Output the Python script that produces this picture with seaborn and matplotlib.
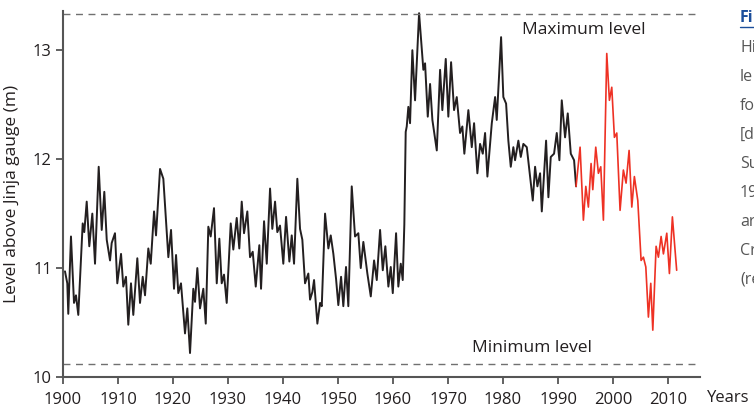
import matplotlib
matplotlib.use("Agg")
import matplotlib.pyplot as plt
import seaborn as sns
import pandas as pd
from matplotlib.lines import Line2D

# lake level, black = historic record, red = recent record
hist_years = [1900.36, 1900.78, 1900.96, 1901.45, 1902.0, 1902.36, 1902.78, 1903.58, 1903.87, 1904.31,
              1904.78, 1905.33, 1905.82, 1906.49, 1907.04, 1907.51, 1907.95, 1908.55, 1908.85, 1909.45,
              1909.87, 1910.55, 1910.96, 1911.45, 1911.87, 1912.36, 1912.78, 1913.51, 1914.0, 1914.49,
              1914.91, 1915.51, 1915.95, 1916.55, 1916.91, 1917.64, 1918.24, 1919.15, 1919.64, 1920.18,
              1920.55, 1920.96, 1921.45, 1922.18, 1922.6, 1923.09, 1923.69, 1924.0, 1924.42, 1924.91,
              1925.51, 1925.95, 1926.42, 1926.85, 1927.45, 1927.95, 1928.42, 1928.85, 1929.27, 1929.76,
              1930.49, 1930.96, 1931.58, 1932.05, 1932.49, 1932.91, 1933.51, 1934.0, 1934.49, 1935.04,
              1935.69, 1936.0, 1936.55, 1937.04, 1937.64, 1938.05, 1938.55, 1938.96, 1939.45, 1940.05,
              1940.55, 1941.15, 1941.58, 1942.0, 1942.6, 1943.09, 1943.51, 1944.0, 1944.6, 1944.91,
              1945.33, 1945.64, 1946.24, 1946.73, 1947.04, 1947.64, 1948.24, 1948.67, 1949.15, 1949.64,
              1950.05, 1950.55, 1950.96, 1951.45, 1951.87, 1952.49, 1953.09, 1953.69, 1954.13, 1954.6,
              1955.33, 1955.95, 1956.55, 1957.04, 1957.64, 1958.13, 1958.6, 1959.15, 1959.58, 1959.95,
              1960.55, 1960.96, 1961.4, 1961.76, 1962.05, 1962.3, 1962.49, 1962.78, 1963.09, 1963.51,
              1964.0, 1964.73, 1965.51, 1965.82, 1966.31, 1966.73, 1967.15, 1967.95, 1968.55, 1968.96,
              1969.58, 1970.05, 1970.55, 1971.09, 1971.58, 1972.18, 1972.6, 1972.96, 1973.69, 1974.31,
              1974.73, 1975.33, 1975.82, 1976.31, 1976.73, 1977.15, 1977.95, 1978.55, 1978.85, 1979.64,
              1980.05, 1980.55, 1980.96, 1981.4, 1981.87, 1982.18, 1982.78, 1983.22, 1983.69, 1984.31,
              1984.91, 1985.4, 1985.82, 1986.24, 1986.73, 1987.04, 1987.82, 1988.24, 1988.67, 1989.27,
              1989.76, 1990.24, 1990.67, 1991.27, 1991.76, 1992.31, 1992.91, 1993.27]
hist_level = [10.97, 10.86, 10.58, 11.29, 10.68, 10.75, 10.57, 11.41, 11.33, 11.61,
              11.20, 11.50, 11.04, 11.93, 11.35, 11.70, 11.26, 11.07, 11.23, 11.32,
              10.86, 11.13, 10.83, 10.92, 10.48, 10.86, 10.57, 11.09, 10.68, 10.92,
              10.75, 11.18, 11.04, 11.52, 11.30, 11.91, 11.82, 11.10, 11.35, 10.81,
              11.12, 10.77, 10.86, 10.40, 10.63, 10.22, 10.81, 10.69, 11.00, 10.63,
              10.81, 10.49, 11.38, 11.29, 11.55, 10.86, 11.27, 10.86, 10.94, 10.68,
              11.41, 11.17, 11.46, 11.18, 11.61, 11.32, 11.52, 11.10, 11.15, 10.83,
              11.21, 10.81, 11.43, 11.04, 11.73, 11.36, 11.61, 11.33, 11.39, 11.04,
              11.47, 11.06, 11.30, 11.04, 11.82, 11.36, 11.26, 10.86, 10.95, 10.71,
              10.78, 10.89, 10.49, 10.68, 10.65, 11.50, 11.18, 11.30, 11.13, 10.90,
              10.66, 10.92, 10.65, 11.01, 10.65, 11.75, 11.29, 11.32, 11.00, 11.24,
              10.95, 10.74, 11.07, 10.89, 11.35, 10.98, 11.20, 10.83, 11.01, 10.77,
              11.32, 10.83, 11.04, 10.89, 11.40, 12.25, 12.30, 12.48, 12.33, 13.00,
              12.54, 13.34, 12.82, 12.88, 12.39, 12.69, 12.36, 12.08, 12.82, 12.45,
              12.92, 12.39, 12.89, 12.45, 12.57, 12.24, 12.30, 12.05, 12.45, 12.11,
              12.33, 11.87, 12.14, 12.05, 12.24, 11.84, 12.33, 12.57, 12.36, 13.12,
              12.57, 12.51, 12.17, 11.93, 12.11, 11.99, 12.17, 12.02, 12.14, 12.11,
              11.84, 11.62, 11.93, 11.75, 11.87, 11.52, 12.17, 11.65, 12.02, 12.05,
              12.24, 11.99, 12.54, 12.20, 12.42, 12.05, 11.99, 11.75]

recent_years = [1993.27, 1994.0, 1994.6, 1995.04, 1995.51, 1996.0, 1996.31, 1996.85, 1997.33, 1997.76,
                1998.24, 1998.85, 1999.33, 1999.76, 2000.24, 2000.67, 2001.27, 2001.87, 2002.36, 2002.91,
                2003.4, 2003.87, 2004.49, 2005.09, 2005.51, 2005.95, 2006.42, 2006.85, 2007.22, 2007.82,
                2008.24, 2008.73, 2009.15, 2009.76, 2010.24, 2010.78, 2011.56]
recent_level = [11.75, 12.11, 11.44, 11.75, 11.56, 11.96, 11.72, 12.11, 11.87, 11.93,
                11.44, 12.97, 12.54, 12.66, 12.20, 12.24, 11.53, 11.90, 11.78, 12.08,
                11.56, 11.84, 11.62, 11.07, 11.10, 11.01, 10.55, 10.86, 10.43, 11.20,
                11.10, 11.29, 11.13, 11.32, 10.95, 11.47, 10.98]

max_level = 13.33
min_level = 10.12
x_ticks = list(range(1900, 2011, 10))
y_ticks = [10, 11, 12, 13]
caption = ["Hi", "le", "fo", "[d", "Su", "19", "ar", "Cr", "(re"]

sns.set_theme(style="ticks")
plt.rcParams["font.family"] = ["Open Sans", "DejaVu Sans"]

fig = plt.figure(figsize=(7.54, 4.08), dpi=100)
ax = fig.add_axes([63 / 754, 1 - 377 / 408, (700 - 63) / 754, (377 - 11) / 408])

hist = pd.DataFrame({"year": hist_years, "level": hist_level})
recent = pd.DataFrame({"year": recent_years, "level": recent_level})
sns.lineplot(data=hist, x="year", y="level", ax=ax, color="#231f20", lw=1.4, sort=False)
sns.lineplot(data=recent, x="year", y="level", ax=ax, color="#ee3124", lw=1.2, sort=False)

ax.axhline(max_level, color="#707070", lw=1, dashes=(5, 4))
ax.axhline(min_level, color="#707070", lw=1, dashes=(5, 4))
ax.text(1994.7, 13.19, "Maximum level", fontsize=12.5, color="#231f20", ha="center", va="center")
ax.text(1985.3, 10.27, "Minimum level", fontsize=12.5, color="#231f20", ha="center", va="center")

ax.set_xlim(1900, 2015.8)
ax.set_ylim(10, 13.36)
ax.set_xticks(x_ticks)
ax.set_yticks(y_ticks)
ax.set_xlabel("")
ax.set_ylabel("Level above Jinja gauge (m)", fontsize=12.5, color="#231f20", labelpad=9)
ax.tick_params(labelsize=12, colors="#555555", labelcolor="#231f20", length=5, width=1.3, pad=3)
ax.tick_params(axis="x", pad=6)
for side in ["top", "right"]:
    ax.spines[side].set_visible(False)
for side in ["left", "bottom"]:
    ax.spines[side].set_color("#555555")
    ax.spines[side].set_linewidth(1.5)

fig.text(707 / 754, 1 - 398 / 408, "Years", fontsize=12, color="#231f20", ha="left", va="center")

# cut-off figure caption on the right edge
fig.text(740 / 754, 1 - 18 / 408, "Fi", fontsize=11.5, color="#1b4e9b", fontweight="bold",
         ha="left", va="center")
fig.add_artist(Line2D([740 / 754, 754 / 754], [1 - 27 / 408, 1 - 27 / 408],
                      color="#1b4e9b", lw=1, transform=fig.transFigure))
for i, s in enumerate(caption):
    fig.text(740 / 754, 1 - (48 + 29 * i) / 408, s, fontsize=11.5, color="#555555",
             ha="left", va="center")

fig.savefig("out.png", dpi=100)
